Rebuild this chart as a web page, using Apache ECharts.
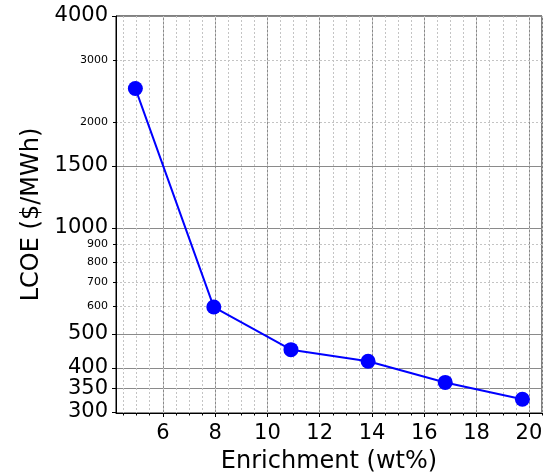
<!DOCTYPE html>
<html lang="en">
<head>
    <meta charset="UTF-8">
    <title>LCOE vs Enrichment</title>
    <script src="https://cdn.jsdelivr.net/npm/echarts@6/dist/echarts.min.js"></script>
    <style type="text/css">
        html, body {
            margin: 0;
            padding: 0;
            width: 100%;
            height: 100%;
            background: #fff;
        }
        #chart {
            width: 547px;
            height: 474px;
        }
    </style>
</head>
<body>
<div id="chart"></div>
<script type="text/javascript">
    // data
    var enrichment = [4.95, 7.95, 10.9, 13.85, 16.8, 19.75];
    var lcoe = [2490, 596, 451, 418, 364, 326];

    // tick labels
    var xMajorTicks = [6, 8, 10, 12, 14, 16, 18, 20];
    var yMajorTicks = [300, 350, 400, 500, 1000, 1500, 4000];
    var yMinorTicks = [600, 700, 800, 900, 2000, 3000];

    var font = 'DejaVu Sans';

    // log10 space for the y axis
    function lg(v) {
        return Math.log10(v);
    }

    var xMinor = [];
    for (var k = 9; k <= 41; k++) {
        xMinor.push(k / 2);
    }

    var points = [];
    for (var i = 0; i < enrichment.length; i++) {
        points.push([enrichment[i], lg(lcoe[i])]);
    }

    var yMin = lg(298), yMax = lg(4000);
    var xMin = 4.21, xMax = 20.5;

    var myChart = echarts.init(document.getElementById('chart'));
    var option = {
        animation: false,
        backgroundColor: '#fff',
        grid: {
            left: 116,
            top: 16,
            right: 5,
            bottom: 61,
            outerBoundsMode: 'none',
            containLabel: false,
            show: true,
            borderColor: '#000',
            borderWidth: 1,
            backgroundColor: 'transparent'
        },
        xAxis: [
            {
                type: 'value',
                min: xMin,
                max: xMax,
                position: 'bottom',
                name: 'Enrichment (wt%)',
                nameLocation: 'middle',
                nameGap: 37,
                nameTextStyle: {color: '#000', fontSize: 24, fontFamily: font},
                axisLine: {show: true, lineStyle: {color: '#000', width: 1}},
                axisTick: {show: true, length: 4, lineStyle: {color: '#000'}, customValues: xMajorTicks},
                axisLabel: {color: '#000', fontSize: 21, fontFamily: font, margin: 10, customValues: xMajorTicks},
                splitLine: {show: true, lineStyle: {color: '#8a8a8a', width: 1}}
            },
            {
                type: 'value',
                min: xMin,
                max: xMax,
                position: 'bottom',
                axisLine: {show: false},
                axisTick: {show: true, length: 2.5, lineStyle: {color: '#000'}, customValues: xMinor},
                axisLabel: {show: false},
                splitLine: {show: true, lineStyle: {color: '#c4c4c4', width: 1, type: [2, 2]}}
            }
        ],
        yAxis: [
            {
                type: 'value',
                min: yMin,
                max: yMax,
                position: 'left',
                name: 'LCOE ($/MWh)',
                nameLocation: 'middle',
                nameGap: 71,
                nameRotate: 90,
                nameTextStyle: {color: '#000', fontSize: 24, fontFamily: font},
                axisLine: {show: true, lineStyle: {color: '#000', width: 1}},
                axisTick: {show: true, length: 4, lineStyle: {color: '#000'}, customValues: yMajorTicks.map(lg)},
                axisLabel: {
                    color: '#000', fontSize: 21, fontFamily: font, margin: 8,
                    customValues: yMajorTicks.map(lg),
                    formatter: function (v) {
                        return Math.round(Math.pow(10, v));
                    }
                },
                splitLine: {show: true, lineStyle: {color: '#8a8a8a', width: 1}}
            },
            {
                type: 'value',
                min: yMin,
                max: yMax,
                position: 'left',
                axisLine: {show: false},
                axisTick: {show: true, length: 3, lineStyle: {color: '#000'}, customValues: yMinorTicks.map(lg)},
                axisLabel: {
                    color: '#000', fontSize: 11, fontFamily: font, margin: 8,
                    customValues: yMinorTicks.map(lg),
                    formatter: function (v) {
                        return Math.round(Math.pow(10, v));
                    }
                },
                splitLine: {show: true, lineStyle: {color: '#c4c4c4', width: 1, type: [2, 2]}}
            }
        ],
        series: [
            {
                type: 'line',
                xAxisIndex: 0,
                yAxisIndex: 0,
                data: points,
                symbol: 'circle',
                symbolSize: 15,
                lineStyle: {color: '#0000ff', width: 2},
                itemStyle: {color: '#0000ff'},
                z: 10
            }
        ]
    };
    myChart.setOption(option);
</script>
</body>
</html>
